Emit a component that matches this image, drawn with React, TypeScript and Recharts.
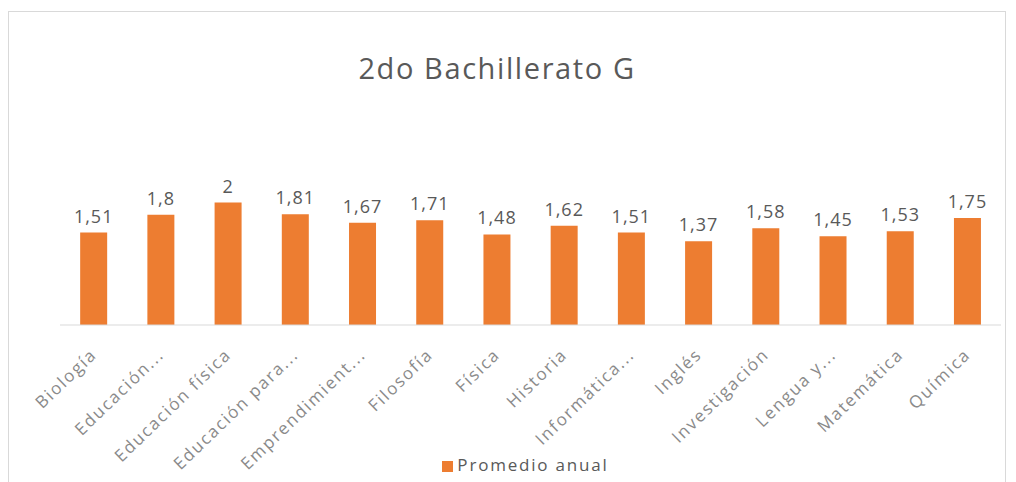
import { Bar, BarChart, LabelList, Legend, XAxis, YAxis } from 'recharts';

const subjects = [
  'Biología',
  'Educación...',
  'Educación física',
  'Educación para...',
  'Emprendimient...',
  'Filosofía',
  'Física',
  'Historia',
  'Informática...',
  'Inglés',
  'Investigación',
  'Lengua y...',
  'Matemática',
  'Química',
];

const promedio = [1.51, 1.8, 2, 1.81, 1.67, 1.71, 1.48, 1.62, 1.51, 1.37, 1.58, 1.45, 1.53, 1.75];

const data = subjects.map((name, i) => ({ name, promedio: promedio[i] }));

const FONT = '"Open Sans", "Liberation Sans", sans-serif';

const fmt = (v: number) => String(v).replace('.', ',');

const AngledTick = ({ x, y, payload }: any) => (
  <text
    x={x}
    y={y}
    dy={27}
    dx={6}
    textAnchor="end"
    transform={`rotate(-44, ${x}, ${y + 27})`}
    fill="#8a8a8a"
    fontSize={17}
    letterSpacing={1.8}
    fontFamily={FONT}
  >
    {payload.value}
  </text>
);

const App = () => (
  <div style={{ position: 'absolute', left: 0, top: 0, width: 1016, height: 482, background: '#fff' }}>
    <div
      style={{
        position: 'absolute',
        left: 8,
        top: 11,
        width: 998,
        height: 480,
        border: '1px solid #d9d9d9',
        boxSizing: 'border-box',
      }}
    />
    <div
      style={{
        position: 'absolute',
        top: 48,
        left: 0,
        width: 994,
        textAlign: 'center',
        fontFamily: FONT,
        fontSize: 29,
        letterSpacing: 1.6,
        color: '#595959',
      }}
    >
      2do Bachillerato G
    </div>
    <BarChart
      width={1016}
      height={482}
      data={data}
      margin={{ top: 172, right: 15, bottom: 6, left: 60 }}
      barCategoryGap="30%"
      style={{ position: 'absolute', left: 0, top: 0 }}
    >
      <YAxis hide domain={[0, 2.5]} />
      <XAxis
        dataKey="name"
        interval={0}
        tickLine={false}
        axisLine={{ stroke: '#d9d9d9' }}
        tick={<AngledTick />}
        height={128}
      />
      <Legend
        verticalAlign="bottom"
        iconType="square"
        iconSize={11}
        wrapperStyle={{ fontFamily: FONT, fontSize: 17, color: '#595959', letterSpacing: 1.8, paddingRight: 36 }}
        formatter={(value: string) => <span style={{ color: '#595959' }}>{value}</span>}
      />
      <Bar dataKey="promedio" name="Promedio anual" fill="#ed7d31" isAnimationActive={false}>
        <LabelList
          dataKey="promedio"
          position="top"
          offset={10}
          formatter={(v: any) => fmt(v)}
          fill="#595959"
          fontSize={18}
          letterSpacing={1}
          fontFamily={FONT}
        />
      </Bar>
    </BarChart>
  </div>
);

export default App;
